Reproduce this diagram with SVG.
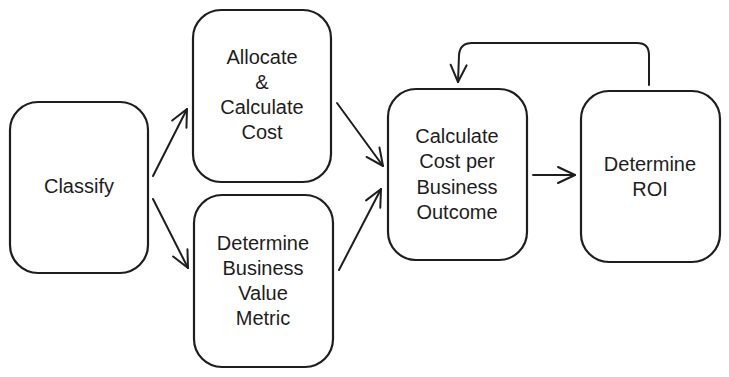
<svg xmlns="http://www.w3.org/2000/svg" width="729" height="377" viewBox="0 0 729 377">
<style>
.box{fill:#ffffff;stroke:#1e1e1e;stroke-width:2.2}
.lbl{font-family:"Liberation Sans",Arial,sans-serif;font-size:20px;fill:#1e1e1e;text-anchor:middle}
.edge{fill:none;stroke:#1e1e1e;stroke-width:2;stroke-linecap:round;stroke-linejoin:round}
</style>
<defs>
<marker id="arr" markerUnits="userSpaceOnUse" markerWidth="26" markerHeight="26" viewBox="-22 -13 26 26" refX="0" refY="0" orient="auto">
<path d="M-17,-8 L0,0 L-17,8" fill="none" stroke="#1e1e1e" stroke-width="2" stroke-linecap="round" stroke-linejoin="round"/>
</marker>
</defs>
<rect width="729" height="377" fill="#ffffff"/>
<g id="classify">
<rect class="box" x="10" y="102" width="138" height="171" rx="28"/>
<text class="lbl" x="79" y="193">Classify</text>
</g>
<g id="allocate">
<rect class="box" x="193" y="10" width="138" height="172" rx="28"/>
<text class="lbl" x="262" y="64">Allocate</text>
<text class="lbl" x="262" y="89">&amp;</text>
<text class="lbl" x="262" y="114">Calculate</text>
<text class="lbl" x="262" y="139">Cost</text>
</g>
<g id="dbvm">
<rect class="box" x="194" y="195" width="139" height="172" rx="28"/>
<text class="lbl" x="263" y="250">Determine</text>
<text class="lbl" x="263" y="275">Business</text>
<text class="lbl" x="263" y="300">Value</text>
<text class="lbl" x="263" y="325">Metric</text>
</g>
<g id="ccbo">
<rect class="box" x="388" y="89" width="139" height="171" rx="28"/>
<text class="lbl" x="457" y="143">Calculate</text>
<text class="lbl" x="457" y="168">Cost per</text>
<text class="lbl" x="457" y="194">Business</text>
<text class="lbl" x="457" y="219">Outcome</text>
</g>
<g id="roi">
<rect class="box" x="581" y="91" width="139" height="171" rx="28"/>
<text class="lbl" x="650" y="171">Determine</text>
<text class="lbl" x="650" y="196">ROI</text>
</g>
<g id="connectors">
<path class="edge" d="M153,176 L187,109" marker-end="url(#arr)"/>
<path class="edge" d="M153,199 L188,268" marker-end="url(#arr)"/>
<path class="edge" d="M337,103 L383,166" marker-end="url(#arr)"/>
<path class="edge" d="M339,270 L381,189" marker-end="url(#arr)"/>
<path class="edge" d="M533,175 L575,175" marker-end="url(#arr)"/>
<path class="edge" d="M649,85 L649,55 Q649,43 637,43 L472,43 Q460,43 459,55 L458,82" marker-end="url(#arr)"/>
</g>
</svg>
